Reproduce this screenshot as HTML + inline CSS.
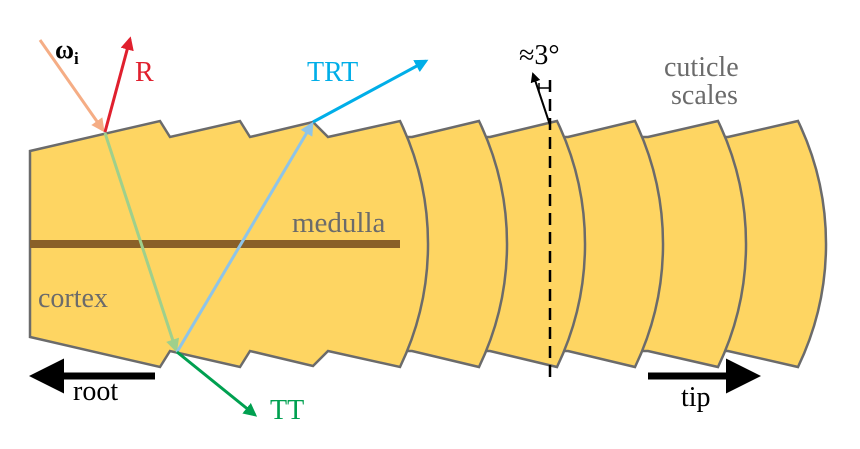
<!DOCTYPE html>
<html><head><meta charset="utf-8"><style>
html,body{margin:0;padding:0;background:#fff;}
svg{display:block;}
svg text{font-family:"Liberation Serif","Times New Roman",Times,"Nimbus Roman","Nimbus Roman No9 L","DejaVu Serif",serif !important;}
</style></head><body>
<svg width="860" height="449" viewBox="0 0 860 449">
<defs>
<marker id="ahR" viewBox="0 0 10 10" refX="8" refY="5" markerWidth="4.5" markerHeight="4.5" orient="auto"><path d="M0,0 L10,5 L0,10 z" fill="#e0202e"/></marker>
<marker id="ahP" viewBox="0 0 10 10" refX="8" refY="5" markerWidth="4.5" markerHeight="4.5" orient="auto"><path d="M0,0 L10,5 L0,10 z" fill="#f5ad85"/></marker>
<marker id="ahB" viewBox="0 0 10 10" refX="8" refY="5" markerWidth="4.5" markerHeight="4.5" orient="auto"><path d="M0,0 L10,5 L0,10 z" fill="#00aee8"/></marker>
<marker id="ahLB" viewBox="0 0 10 10" refX="8" refY="5" markerWidth="4.5" markerHeight="4.5" orient="auto"><path d="M0,0 L10,5 L0,10 z" fill="#8ec4e8"/></marker>
<marker id="ahLG" viewBox="0 0 10 10" refX="8" refY="5" markerWidth="4.5" markerHeight="4.5" orient="auto"><path d="M0,0 L10,5 L0,10 z" fill="#9fd08c"/></marker>
<marker id="ahG" viewBox="0 0 10 10" refX="8" refY="5" markerWidth="4.5" markerHeight="4.5" orient="auto"><path d="M0,0 L10,5 L0,10 z" fill="#00a050"/></marker>
<marker id="ahK" viewBox="0 0 10 10" refX="8" refY="5" markerWidth="5" markerHeight="5" orient="auto"><path d="M0,0 L10,5 L0,10 z" fill="#000"/></marker>
</defs>
<g stroke="#6b6b6b" stroke-width="2.5" fill="#fed562" stroke-linejoin="miter">
<path d="M728,137 L798,121 A284 284 0 0 1 798,367 L728,351 L715,351 L715,137 Z"/>
<path d="M648,137 L718,121 A284 284 0 0 1 718,367 L648,351 L635,351 L635,137 Z"/>
<path d="M568,137 L635,121 A284 284 0 0 1 635,367 L568,351 L555,351 L555,137 Z"/>
<path d="M490,137 L557,121 A284 284 0 0 1 557,367 L490,351 L477,351 L477,137 Z"/>
<path d="M412,137 L479,121 A284 284 0 0 1 479,367 L412,351 L399,351 L399,137 Z"/>
<path d="M30,151 L160,121 L170,137 L240,121 L250,137 L313,122 L328,137 L400,121 A284 284 0 0 1 400,367 L328,351 L313,366 L250,351 L240,367 L170,351 L160,367 L30,337 Z"/>
</g>
<line x1="30" y1="244" x2="400" y2="244" stroke="#8a6028" stroke-width="8"/>
<line x1="550" y1="80" x2="550" y2="382" stroke="#000" stroke-width="2.5" stroke-dasharray="12,7"/>
<line x1="550" y1="125" x2="533" y2="74" stroke="#000" stroke-width="2" marker-end="url(#ahK)"/>
<path d="M539,88 L550,88 M539,83 L539,92" stroke="#000" stroke-width="1.5" fill="none"/>
<line x1="40" y1="40" x2="103" y2="130" stroke="#f5ad85" stroke-width="3" marker-end="url(#ahP)"/>
<line x1="105" y1="132" x2="130" y2="39" stroke="#e0202e" stroke-width="3" marker-end="url(#ahR)"/>
<line x1="105" y1="133" x2="176" y2="350" stroke="#9fd08c" stroke-width="3" marker-end="url(#ahLG)"/>
<line x1="177" y1="352" x2="312" y2="124" stroke="#8ec4e8" stroke-width="3" marker-end="url(#ahLB)"/>
<line x1="313" y1="122" x2="426" y2="61" stroke="#00aee8" stroke-width="3" marker-end="url(#ahB)"/>
<line x1="177" y1="352" x2="255" y2="415" stroke="#00a050" stroke-width="3" marker-end="url(#ahG)"/>
<line x1="155" y1="376" x2="36" y2="376" stroke="#000" stroke-width="7" marker-end="url(#ahK)"/>
<line x1="648" y1="376" x2="754" y2="376" stroke="#000" stroke-width="7" marker-end="url(#ahK)"/>
<g>
<text x="55" y="58" font-size="26" font-weight="bold" fill="#000">ω<tspan font-size="17" dy="6">i</tspan></text>
<text x="135" y="81" font-size="28" fill="#e0202e">R</text>
<text x="307" y="81" font-size="28" fill="#00aee8">TRT</text>
<text x="519" y="64" font-size="28" fill="#000">≈3°</text>
<text x="664" y="76" font-size="28" fill="#6b6b6b">cuticle</text>
<text x="671" y="104" font-size="28" fill="#6b6b6b">scales</text>
<text x="292" y="232" font-size="29" fill="#6b6b6b">medulla</text>
<text x="38" y="307" font-size="28" fill="#6b6b6b">cortex</text>
<text x="73" y="400" font-size="28" fill="#000">root</text>
<text x="270" y="419" font-size="28" fill="#00a050">TT</text>
<text x="681" y="406" font-size="28" fill="#000">tip</text>
</g>
</svg>
</body></html>
